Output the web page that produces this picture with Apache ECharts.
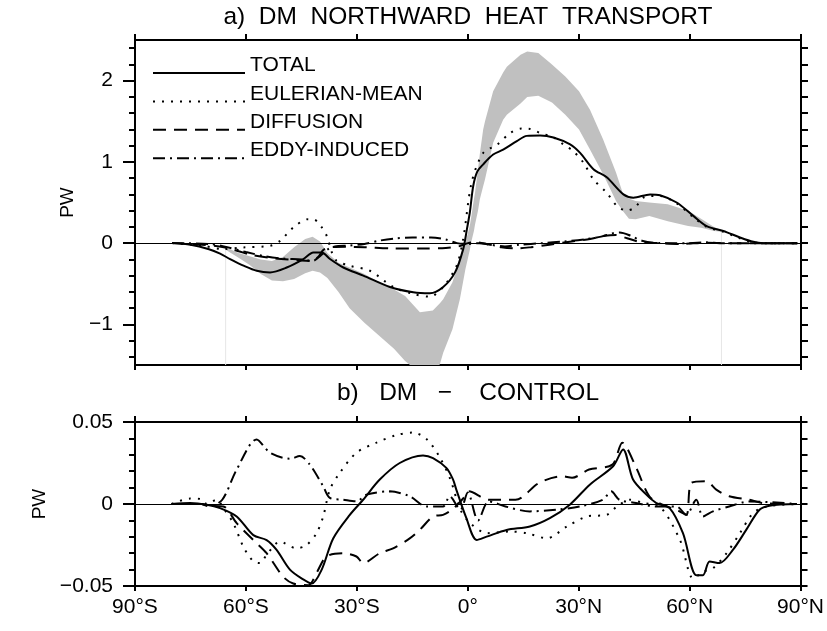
<!DOCTYPE html>
<html>
<head>
<meta charset="utf-8">
<script src="https://cdn.jsdelivr.net/npm/echarts@6/dist/echarts.min.js"></script>
<style>
html, body { margin: 0; padding: 0; background: #fff; }
#chart { width: 827px; height: 631px; }
</style>
</head>
<body>
<div id="chart"></div>
<script>
// ---- Panel a: northward heat transport (PW) vs latitude ----
const totalA = [[-80,0],[-75,-0.02],[-70,-0.075],[-67,-0.13],[-64.3,-0.196],[-60.5,-0.28],[-57.1,-0.34],[-53.5,-0.36],[-49,-0.30],[-44.5,-0.196],[-41.8,-0.114],[-39.5,-0.114],[-37.3,-0.196],[-33.7,-0.30],[-28.3,-0.40],[-21.1,-0.54],[-14.8,-0.605],[-10.3,-0.617],[-6.7,-0.54],[-3.5,-0.36],[-1.3,-0.074],[-0.3,0.17],[0.5,0.38],[1.4,0.70],[2.5,0.88],[4.1,0.97],[6.8,1.09],[9.5,1.15],[13.2,1.255],[15.9,1.32],[19.5,1.325],[23.1,1.30],[27.6,1.215],[30.3,1.11],[33.9,0.91],[37.5,0.81],[42,0.60],[44.7,0.56],[49.2,0.60],[51.9,0.59],[56.4,0.50],[60.9,0.335],[64.5,0.21],[69,0.15],[73.5,0.07],[77.1,0.016],[79.8,0],[89,0]];
const eulerA = [[-80,0],[-72,-0.03],[-66.1,-0.074],[-60.7,-0.053],[-53.5,-0.033],[-50.8,0.028],[-47.2,0.193],[-43.2,0.295],[-41.4,0.287],[-39.5,0.193],[-38.2,0.09],[-36.8,-0.114],[-35.5,-0.217],[-31.9,-0.279],[-26.5,-0.34],[-20.2,-0.54],[-14.8,-0.626],[-10.3,-0.659],[-6.7,-0.54],[-3.1,-0.279],[-1.3,0.05],[1.0,0.75],[4.1,1.11],[7.8,1.21],[11.4,1.355],[14.5,1.41],[16.8,1.405],[19.5,1.355],[23.1,1.30],[25.8,1.215],[28.5,1.13],[31.2,0.99],[33.9,0.785],[37.5,0.62],[40.2,0.46],[42.9,0.40],[45.1,0.44],[47.4,0.56],[49.2,0.58],[51.9,0.58],[56.4,0.49],[60.9,0.32],[64.5,0.20],[69,0.14],[73.5,0.06],[77.1,0.01],[80,0],[89,0]];
const diffA = [[-80,0],[-72,-0.02],[-66,-0.05],[-62,-0.10],[-58,-0.15],[-52,-0.19],[-46,-0.21],[-42,-0.22],[-40.5,-0.17],[-39,-0.08],[-37,-0.05],[-33,-0.045],[-28,-0.05],[-20,-0.065],[-12,-0.065],[-6,-0.06],[-2.5,-0.04],[0,0.0],[2,0.01],[5,-0.01],[9,-0.05],[13,-0.065],[17,-0.05],[22,-0.02],[28,0.02],[33,0.05],[37,0.09],[40,0.10],[43,0.06],[47,0.01],[52,0.0],[58,-0.01],[64,0.005],[70,0.0],[89,0]];
const eddyA = [[-80,0],[-70,-0.01],[-66,-0.04],[-60,-0.11],[-55,-0.16],[-50,-0.19],[-45,-0.20],[-42,-0.22],[-40,-0.16],[-38,-0.08],[-36,-0.04],[-32,-0.03],[-28,-0.01],[-24,0.03],[-20,0.055],[-15,0.07],[-10,0.07],[-6,0.045],[-3,0.0],[0,-0.01],[3,0.0],[6,-0.02],[10,-0.04],[14,-0.02],[20,0.0],[26,0.02],[32,0.05],[36,0.08],[39,0.12],[41,0.13],[44,0.09],[47,0.03],[52,0.0],[60,0.0],[64,0.01],[68,0.0],[89,0]];

// Observational range (shaded band): latitude, upper and lower bound
const bandLat = [-65.5,-62,-59,-56,-53,-50,-47,-44,-42,-40,-38,-35,-32,-28,-24,-20,-17,-13,-9.5,-7.6,-6.7,-4.2,-2.2,-0.7,0.5,0.8,1.6,1.9,2.7,3.2,4.1,4.6,6.8,9.5,10.5,14.2,16,19,22.7,26.3,30,33,36.5,40,41.8,43.5,45.3,49,54,59.5,63,66.5,68.5];
const bandHi  = [-0.05,-0.12,-0.16,-0.20,-0.22,-0.17,-0.05,0.05,0.08,0.02,-0.12,-0.24,-0.30,-0.38,-0.48,-0.57,-0.65,-0.85,-0.83,-0.74,-0.69,-0.48,-0.20,0.0,0.22,0.30,0.54,0.62,0.91,1.10,1.40,1.50,1.87,2.10,2.17,2.32,2.36,2.34,2.20,2.05,1.87,1.64,1.28,0.87,0.62,0.55,0.52,0.50,0.48,0.40,0.30,0.20,0.16];
const bandLo  = [-0.08,-0.18,-0.27,-0.38,-0.46,-0.47,-0.44,-0.37,-0.34,-0.36,-0.43,-0.60,-0.80,-0.98,-1.14,-1.30,-1.45,-1.60,-1.62,-1.49,-1.35,-1.06,-0.69,-0.32,-0.08,0.0,0.15,0.23,0.40,0.54,0.70,0.785,1.235,1.52,1.58,1.72,1.80,1.815,1.73,1.58,1.40,1.15,0.85,0.52,0.40,0.30,0.295,0.335,0.27,0.21,0.19,0.15,0.14];

// ---- Panel b: DM minus CONTROL (PW) ----
const totalB = [[-80.1,0],[-75.1,0.0006],[-70.6,-0.0004],[-67,-0.0025],[-62.5,-0.0076],[-58,-0.019],[-54.4,-0.022],[-51.7,-0.028],[-48.1,-0.040],[-44.5,-0.046],[-42.2,-0.0485],[-39.5,-0.040],[-36.4,-0.021],[-31.9,-0.0066],[-28.3,0.0026],[-23.8,0.0149],[-18.4,0.025],[-12.1,0.0296],[-9.4,0.028],[-5.8,0.022],[-4.0,0.015],[-3.1,0.0088],[-0.4,-0.0085],[2.4,-0.0219],[5.1,-0.0199],[10.5,-0.0158],[16.8,-0.0137],[22.2,-0.0086],[27.6,-0.0004],[33,0.0118],[39.3,0.023],[42,0.0333],[44.7,0.0149],[48.3,0.0057],[51,0.0006],[54.6,-0.0025],[58.2,-0.0178],[61.8,-0.0434],[63.6,-0.0434],[65.4,-0.035],[68.1,-0.036],[71.7,-0.028],[75.3,-0.0158],[78.9,-0.0035],[81.6,-0.001],[89,0]];
const eulerB = [[-80.1,0],[-75.1,0.0033],[-72,0.003],[-70.6,0],[-67.9,0.0026],[-66.1,-0.0025],[-63.4,-0.0117],[-60.7,-0.026],[-58,-0.035],[-56.2,-0.036],[-54.4,-0.031],[-50.8,-0.023],[-46.3,-0.027],[-43.6,-0.025],[-40.9,-0.0178],[-39.1,-0.0076],[-37.3,0.0088],[-34.6,0.019],[-30.1,0.0313],[-24.7,0.0374],[-19.3,0.042],[-14.8,0.0436],[-11.1,0.0395],[-7.5,0.0282],[-4.7,0.015],[-2,-0.0035],[0.7,-0.0117],[5.2,-0.0178],[11.5,-0.0168],[16,-0.0178],[21.4,-0.0209],[26.8,-0.0137],[32.2,-0.0076],[37.6,-0.0066],[40.3,-0.0016],[43.9,0.0026],[47.5,0.0006],[52,-0.0016],[57.4,-0.022],[61,-0.0454],[63.7,-0.0413],[66.4,-0.039],[70,-0.030],[73.6,-0.0178],[77.2,-0.0055],[81,-0.0015],[89,0]];
const diffB = [[-80.1,0],[-72,0],[-70.6,-0.001],[-66.1,-0.0015],[-62.5,-0.0117],[-58,-0.022],[-54.4,-0.030],[-49.9,-0.0444],[-47.2,-0.0485],[-43.1,-0.0495],[-40.9,-0.042],[-38.2,-0.032],[-33.7,-0.030],[-30.1,-0.032],[-28.3,-0.036],[-23.8,-0.030],[-20.2,-0.027],[-15.7,-0.021],[-13,-0.0158],[-9.4,-0.0076],[-6.7,-0.0066],[-4,-0.003],[-1,0.004],[0.3,0.0077],[5.7,0.0026],[12.9,0.0026],[19.3,0.0129],[25.5,0.0169],[28.2,0.016],[32.8,0.021],[39.1,0.024],[41.8,0.0374],[45.4,0.023],[49.1,0.0047],[52.7,-0.0004],[56.4,-0.0035],[59.1,-0.0066],[60.5,0.0129],[64.5,0.0139],[67.2,0.0088],[70.7,0.0047],[76.2,0.0026],[79.8,0.0006],[89,0]];
const eddyB = [[-80.1,0],[-72,0],[-70,-0.0015],[-66.4,0.0026],[-62.5,0.021],[-57.1,0.0394],[-53.5,0.0313],[-48.1,0.0276],[-45.4,0.0292],[-42.7,0.024],[-39.1,0.0108],[-37.3,0.0037],[-33.7,0.0026],[-30.1,0.0016],[-27.4,0.0057],[-21.1,0.0077],[-15.7,0.0047],[-11.2,-0.0015],[-6.7,-0.0015],[-4.9,0.0047],[-2,-0.0035],[0,0.007],[2.8,-0.01],[5.7,0.0016],[10.2,-0.0015],[16.8,-0.0045],[23.9,-0.0035],[30.3,-0.0015],[36.5,0.0026],[38.8,0.0077],[41,0.0026],[45.5,0.0006],[51,-0.0015],[56.4,-0.0015],[59.1,-0.0066],[61.8,0.0026],[63.6,-0.0076],[66.3,-0.0045],[70.7,-0.0015],[76.2,0.0016],[89,0]];

// ---- Axis ticks and labels ----
const latTicks = [-90, -60, -30, 0, 30, 60, 90];
const yMajorA = [-1, 0, 1, 2];
const yMinorA = [-1.4,-1.2,-0.8,-0.6,-0.4,-0.2,0.2,0.4,0.6,0.8,1.2,1.4,1.6,1.8,2.2,2.4];
const yMajorB = [-0.05, 0, 0.05];
const yMinorB = [-0.04,-0.03,-0.02,-0.01,0.01,0.02,0.03,0.04];
const seriesNames = ['TOTAL', 'EULERIAN-MEAN', 'DIFFUSION', 'EDDY-INDUCED'];
const titleA = 'a)  DM  NORTHWARD  HEAT  TRANSPORT';
const titleB = 'b)   DM   \u2212    CONTROL';

const FONT = 'Liberation Sans';
const INK = '#000';
const DASH = {
  'TOTAL': 'solid',
  'EULERIAN-MEAN': [2, 7],
  'DIFFUSION': [13, 8],
  'EDDY-INDUCED': [12, 5, 2, 5]
};

const latLabel = v => v === 0 ? '0°' : Math.abs(v) + '°' + (v < 0 ? 'S' : 'N');
const numLabel = v => (v < 0 ? '\u2212' : '') + Math.abs(v);

const gridA = { left: 135, top: 40, width: 666, height: 325 };
const gridB = { left: 135, top: 422, width: 666, height: 164 };

function xAxisFor(gridIndex, position, showLabels) {
  return {
    type: 'value', gridIndex, position, min: -90, max: 90, interval: 30,
    axisLine: { onZero: false, lineStyle: { color: INK, width: 2 } },
    axisTick: { show: true, length: position === 'top' ? 6 : 5, lineStyle: { color: INK, width: 2 } },
    axisLabel: { show: showLabels, formatter: latLabel, fontFamily: FONT, fontSize: 21, color: INK, margin: 11 },
    splitLine: { show: false }
  };
}
function yAxisFor(gridIndex, position, min, max, ticks, len, labels, name) {
  const ax = {
    type: 'value', gridIndex, position, min, max,
    axisLine: { show: true, onZero: false, lineStyle: { color: INK, width: 2 } },
    axisTick: { show: true, customValues: ticks, length: len, lineStyle: { color: INK, width: 2 } },
    axisLabel: labels ? { show: true, customValues: labels, formatter: numLabel, fontFamily: FONT, fontSize: 21, color: INK, margin: 22 } : { show: false },
    splitLine: { show: false }
  };
  if (name) {
    ax.name = name;
    ax.nameLocation = 'middle';
    ax.nameGap = 58;
    ax.nameTextStyle = { fontFamily: FONT, fontSize: 19, color: INK };
  }
  return ax;
}

function lineSeries(name, data, xi, yi, withZero) {
  const s = {
    name, type: 'line', data, xAxisIndex: xi, yAxisIndex: yi,
    showSymbol: false, smooth: 0.3, silent: true, z: 3,
    lineStyle: { color: INK, width: 2, type: DASH[name] }
  };
  if (withZero) {
    s.markLine = {
      silent: true, symbol: ['none', 'none'], label: { show: false },
      lineStyle: { color: INK, width: 1, type: 'solid' },
      data: [{ yAxis: 0 }]
    };
  }
  return s;
}

const bandSeries = {
  type: 'custom', coordinateSystem: 'cartesian2d', xAxisIndex: 0, yAxisIndex: 0,
  clip: true, silent: true, z: 1,
  data: [[0, 0]],
  renderItem: (params, api) => {
    const pts = [];
    bandLat.forEach((x, i) => pts.push(api.coord([x, bandHi[i]])));
    for (let i = bandLat.length - 1; i >= 0; i--) pts.push(api.coord([bandLat[i], bandLo[i]]));
    const n = bandLat.length - 1;
    const l0 = api.coord([bandLat[0], bandLo[0]]), l1 = api.coord([bandLat[0], -1.5]);
    const r0 = api.coord([bandLat[n], bandLo[n]]), r1 = api.coord([bandLat[n], -1.5]);
    return {
      type: 'group',
      children: [
        { type: 'line', shape: { x1: l0[0], y1: l0[1], x2: l1[0], y2: l1[1] }, style: { stroke: '#e6e6e6', lineWidth: 1 } },
        { type: 'line', shape: { x1: r0[0], y1: r0[1], x2: r1[0], y2: r1[1] }, style: { stroke: '#e6e6e6', lineWidth: 1 } },
        { type: 'polygon', shape: { points: pts }, style: { fill: '#c0c0c0' } }
      ]
    };
  }
};

// Legend: sample line on the text baseline, label to its right
const legendItems = [];
seriesNames.forEach((name, i) => {
  const yText = 65.5 + i * 28.4;
  const dash = DASH[name];
  legendItems.push({
    type: 'line', silent: true,
    shape: { x1: 153, y1: yText + 7.5, x2: 245, y2: yText + 7.5 },
    style: { stroke: INK, lineWidth: 2, lineDash: dash === 'solid' ? null : dash }
  });
  legendItems.push({
    type: 'text', silent: true,
    style: { x: 250, y: yText, text: name, font: '21px ' + FONT, fill: INK, verticalAlign: 'middle' }
  });
});

const option = {
  backgroundColor: '#fff',
  animation: false,
  grid: [gridA, gridB],
  xAxis: [
    xAxisFor(0, 'bottom', false),
    xAxisFor(0, 'top', false),
    xAxisFor(1, 'bottom', true),
    xAxisFor(1, 'top', false)
  ],
  yAxis: [
    yAxisFor(0, 'left', -1.5, 2.5, yMajorA, 12, yMajorA, 'PW'),
    yAxisFor(0, 'left', -1.5, 2.5, yMinorA, 6, null),
    yAxisFor(0, 'right', -1.5, 2.5, yMajorA.concat(yMinorA), 7, null),
    yAxisFor(1, 'left', -0.05, 0.05, yMajorB, 12, yMajorB, 'PW'),
    yAxisFor(1, 'left', -0.05, 0.05, yMinorB, 6, null),
    yAxisFor(1, 'right', -0.05, 0.05, yMajorB.concat(yMinorB), 7, null)
  ],
  graphic: [
    { type: 'text', silent: true, style: { x: 468, y: 17, text: titleA, font: '24.5px ' + FONT, fill: INK, align: 'center', verticalAlign: 'middle' } },
    { type: 'text', silent: true, style: { x: 468, y: 393, text: titleB, font: '24.5px ' + FONT, fill: INK, align: 'center', verticalAlign: 'middle' } }
  ].concat(legendItems),
  series: [
    bandSeries,
    lineSeries('TOTAL', totalA, 0, 0, true),
    lineSeries('EULERIAN-MEAN', eulerA, 0, 0),
    lineSeries('DIFFUSION', diffA, 0, 0),
    lineSeries('EDDY-INDUCED', eddyA, 0, 0),
    lineSeries('TOTAL', totalB, 2, 3, true),
    lineSeries('EULERIAN-MEAN', eulerB, 2, 3),
    lineSeries('DIFFUSION', diffB, 2, 3),
    lineSeries('EDDY-INDUCED', eddyB, 2, 3)
  ]
};

const chart = echarts.init(document.getElementById('chart'), null, { renderer: 'canvas' });
chart.setOption(option);
</script>
</body>
</html>
